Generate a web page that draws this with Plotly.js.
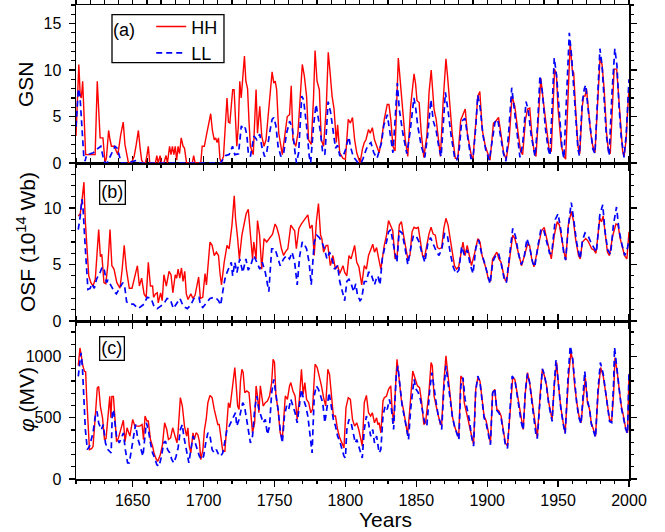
<!DOCTYPE html>
<html>
<head>
<meta charset="utf-8">
<script src="https://cdn.plot.ly/plotly-3.0.1.min.js"></script>
<style>html,body{margin:0;padding:0;background:#fff;}#chart{width:665px;height:532px;}</style>
</head>
<body>
<div id="chart"></div>
<script>
// ---- DATA: [year, value] pairs ----
const seriesNames = ["HH", "LL"];
const panelLabels = ["(a)", "(b)", "(c)"];
const yTitles = ["GSN", "OSF (10<sup>14</sup> Wb)", "<i>\u03c6</i> (MV)"];

const gsnHH = [[1610,2.9],[1611,6],[1612,10.6],[1613,7.2],[1613.8,7.0],[1614.7,8.8],[1615.5,5],[1616.8,0.9],[1618,0.9],[1620,0.9],[1622,0.9],[1623.5,0.9],[1625,8.8],[1626,5.5],[1627,2.7],[1629,2.7],[1630.5,0],[1631.5,0.6],[1633,3.5],[1634,2.5],[1635,1.8],[1637,1.8],[1638.5,1.3],[1639.5,0.9],[1641.5,3.0],[1643.3,4.4],[1644.5,2.0],[1645.8,0.7],[1647,0],[1649,0],[1651,0.7],[1652.5,2.0],[1654,3.5],[1655.3,1.5],[1656.3,0.3],[1657.5,0],[1659,0],[1660,0.8],[1661,1.8],[1662,0],[1664,0],[1666,0],[1667,0.8],[1668,0],[1669.3,0.8],[1670.3,0],[1672,0],[1673.5,0.8],[1674.5,0],[1676,1.8],[1677,0.9],[1678,1.8],[1679,0.9],[1680,1.8],[1681,0.3],[1682,1.8],[1683,1.0],[1684.2,2.7],[1685.5,1.8],[1686.5,1.6],[1688,0],[1690,0],[1692,0],[1693,0.8],[1694,0],[1696,0],[1698,0],[1699,1.8],[1700.5,1.8],[1702,3.0],[1703.5,4.3],[1705,5.3],[1706.2,3.5],[1707.5,2.5],[1708.5,2.7],[1709.5,2.2],[1710.5,2.7],[1711.5,0.5],[1712.5,0],[1714,0.7],[1716.5,7.0],[1717.5,4.4],[1718.5,4.3],[1719.5,6],[1720.5,7.9],[1721.5,7.9],[1723.4,1.8],[1724.5,4],[1725.5,8.8],[1726.5,7.0],[1727.5,8.6],[1728.8,11.5],[1729.8,8.8],[1731,8.0],[1732,4.5],[1733,1.8],[1735,0.9],[1737,7.9],[1738,3.2],[1739.6,6.1],[1741,2.9],[1742.6,1.8],[1744,2.5],[1746.5,7.2],[1748.3,9.8],[1749.5,8.6],[1750.5,8.8],[1751.5,7.9],[1753,3.2],[1755.5,0.9],[1757.6,3.8],[1759,5.0],[1760.6,5.2],[1761.8,8.3],[1763,2.5],[1765,1.8],[1766.5,3.2],[1768,7],[1769.6,10.6],[1771,9.4],[1772.6,7.2],[1774,2.5],[1775.9,2.0],[1777.5,7],[1778.6,12.1],[1780,8.8],[1781.6,7.9],[1783,2.5],[1784.6,1.8],[1786.5,6],[1787.9,11.9],[1789,10.1],[1790.6,7.2],[1792,5.8],[1793.6,2.2],[1794.5,4.1],[1796,1.1],[1798.3,0.5],[1800,0.4],[1802,4.7],[1803.5,4.3],[1805,4.9],[1806.5,2.5],[1808,1.1],[1810.3,0],[1812,1.5],[1813.3,2.2],[1814.5,2.5],[1816.3,3.6],[1817.5,3.2],[1819,3.8],[1820.5,2.5],[1822.3,1.8],[1823.8,1.1],[1825.5,2.5],[1827.4,4.7],[1829.5,6.3],[1830.7,6.3],[1832,4.7],[1833.5,1.8],[1835,1.3],[1837.3,11.3],[1838.8,8.6],[1840.3,5.8],[1842.2,2.5],[1844,0.7],[1846,6.1],[1848.4,9.6],[1849.5,8.5],[1850.5,6.7],[1852,6.5],[1853.5,3.2],[1855.3,0.6],[1857.5,3],[1859,7.6],[1860.5,10.0],[1862.5,5.8],[1864,4.7],[1865.8,2.2],[1867,0.7],[1869,6.8],[1870.9,11.2],[1872,9.4],[1873.3,6.8],[1875.3,3.2],[1877.5,0.5],[1879.3,0.5],[1881.3,4.6],[1883,5.2],[1884.5,5.8],[1886,3.2],[1888.9,0.7],[1890,0.5],[1892,4.0],[1893.4,7.2],[1894.8,7.7],[1896.5,3.6],[1898.7,1.8],[1900.8,0.7],[1902,0.3],[1904.4,4.3],[1906,4.5],[1908,4.9],[1909.5,3.2],[1911.6,1.1],[1913.4,0.4],[1915.5,2.5],[1917.5,7.2],[1919.5,6.1],[1921.8,3.2],[1923.5,1.3],[1925,0.9],[1927,4.7],[1928.5,5.8],[1930,5.9],[1931.4,3.2],[1933,1.3],[1934.4,0.7],[1936.5,6.1],[1937.8,9.1],[1939.5,6.8],[1942,3.2],[1943.7,1.4],[1945.2,1.3],[1946.5,6.5],[1947.5,10.1],[1948.8,9.5],[1950,5.8],[1952.3,1.8],[1954.2,0.7],[1955.3,0.4],[1957,7.0],[1958.5,12.9],[1960,10.0],[1961,9.7],[1962.5,5.4],[1964,1.8],[1965.3,1.0],[1967,6.0],[1968,7.2],[1969,7.2],[1970,8.0],[1971.5,5.2],[1973,3.2],[1974.5,1.8],[1976,1.1],[1978,6.8],[1979.6,11.3],[1981,10.6],[1982.5,7.9],[1984.2,3.2],[1985.5,1.3],[1986.8,1.0],[1988.5,7.2],[1989.5,10.1],[1991.3,10.1],[1992.8,6.8],[1994.3,3.2],[1995.5,1.3],[1996.5,0.7],[1998,2.5],[1999,5.5],[2000,8.0]];

const gsnLL = [[1610,3.9],[1611.7,8.0],[1612.8,7.2],[1614.5,3.2],[1615.5,0.7],[1616.4,0.2],[1617.5,0.9],[1620,1.0],[1622.2,1.1],[1624,1.4],[1626,1.6],[1627.5,1.8],[1629.3,0.5],[1630.5,0],[1632,0],[1633.3,0.4],[1635,1.1],[1637.5,1.8],[1639,1.6],[1641,0.5],[1642,0],[1646,0],[1650,0.2],[1653,0.3],[1655,0],[1660,0],[1670,0],[1680,0],[1690,0],[1700,0],[1712,0],[1714,0.5],[1715.5,0.8],[1718,0.9],[1720.4,1.8],[1722,0.9],[1724.6,1.0],[1726.6,4.0],[1728,3.6],[1729.3,3.8],[1730.5,3.0],[1731.5,1.1],[1733,0.7],[1735.5,2.9],[1737.5,2.5],[1739.6,3.1],[1741,1.8],[1743,0.7],[1744.5,1.1],[1746.5,3.2],[1748.3,4.7],[1749.5,4.9],[1751,4.0],[1752.5,1.8],[1754.5,0.7],[1756.5,1.1],[1758.5,3.2],[1760.7,4.5],[1762.5,3.8],[1764.5,1.1],[1765.5,0],[1767,1.1],[1769.2,7.2],[1770.5,6.8],[1772.6,4.0],[1774.5,0.7],[1775.5,0],[1777.5,4.0],[1779.3,6.3],[1781,4.7],[1782.5,3.2],[1784,1.1],[1785.5,0.9],[1786.5,3.2],[1787.8,6.6],[1789.5,5.5],[1791.5,3.2],[1793,1.6],[1794.5,1.9],[1796,0.8],[1798.3,0.7],[1800,1.4],[1801.3,2.2],[1802.5,2.8],[1803.5,1.8],[1805.5,0.7],[1807,0.4],[1809,0],[1811,0],[1812.5,0.5],[1814.5,1.4],[1816,1.9],[1818,2.2],[1820,1.1],[1822.3,0.5],[1824,1.5],[1825.5,2.2],[1827,4.0],[1829.5,5.2],[1831.5,3.2],[1833.5,1.1],[1835,4.5],[1836.6,8.6],[1838,5.8],[1840.5,3.2],[1843.3,1.0],[1845.5,3.2],[1848.3,7.0],[1849.5,6.0],[1851,4.0],[1853.5,1.8],[1856,0.6],[1858,3],[1860.3,6.8],[1862,4.5],[1864,3.5],[1866,1.6],[1867.5,0.7],[1869,4],[1870.5,7.6],[1872.5,5.5],[1874.5,3.0],[1877,0.6],[1878.5,0.3],[1880,1.0],[1882,4.5],[1884.3,4.8],[1886,3.0],[1888.5,0.5],[1890,0.5],[1892,4.0],[1893.3,7.3],[1895,6.0],[1897,3.0],[1899,1.4],[1901.5,0.3],[1903.5,2.5],[1905.5,4.4],[1907.4,4.7],[1909.5,2.8],[1911.5,1.0],[1913.2,0.2],[1915,3.0],[1917.3,8.1],[1919,6.0],[1921.5,3.0],[1923.1,0.6],[1925,2.0],[1927.4,6.6],[1929,5.6],[1931,3.0],[1933.7,0.7],[1935.5,4.0],[1937.2,9.4],[1939,7.5],[1941,3.8],[1943,1.5],[1944.3,0.8],[1946,6.0],[1947.3,11.3],[1949,9.3],[1951,5.0],[1952.8,1.5],[1954.1,0.5],[1956.3,7.5],[1957.9,14.0],[1959.5,11.5],[1961,8],[1962.5,4.5],[1964,1.5],[1965,0.8],[1967,6.5],[1968.5,8.0],[1969.5,8.4],[1971,6.0],[1973,3.2],[1974.5,1.5],[1976,1.0],[1978,8.5],[1979.5,12.3],[1981,10.5],[1982.5,6.5],[1984,3.0],[1986,0.8],[1988,7.5],[1990,12.3],[1991.5,10.5],[1993,6.0],[1994.5,2.8],[1996.5,0.6],[1998,3.0],[1999,6.0],[2000,9.0]];

const osfHH = [[1611.6,9.3],[1613,9.5],[1614.5,11],[1615.6,12.3],[1616.5,9.0],[1617.5,7.0],[1619,4.0],[1620.5,3.4],[1622,3.1],[1623.6,3.7],[1625,6],[1626,8.1],[1627.2,5.7],[1628.2,5.9],[1629.7,3.4],[1631,3.3],[1632.5,5],[1634,8.1],[1635.3,4.9],[1636.8,4.6],[1638.8,3.4],[1641,2.9],[1642.5,4.5],[1644,6.7],[1645.5,4.6],[1647.6,2.9],[1649.5,2.9],[1651.7,4.1],[1653.3,4.9],[1654.7,3.1],[1656.3,3.8],[1658,2.4],[1659.5,2.1],[1661,5.2],[1662.5,3.1],[1664,3.1],[1664.7,2.1],[1666,2.4],[1667.3,2.5],[1668,1.6],[1669.7,2.5],[1670.8,1.8],[1672,4.1],[1673.7,3.1],[1675.6,4.4],[1677,4.1],[1678.3,2.5],[1680,4.1],[1681,3.8],[1682,4.6],[1683.2,3.8],[1684.4,4.7],[1685.5,3.5],[1686.7,4.4],[1687.8,2.4],[1689,1.9],[1691,2.4],[1692.5,2.0],[1694,2.3],[1696.5,3.9],[1697.7,2.0],[1699.4,2.1],[1701,4.2],[1702,3.2],[1704.5,7.0],[1706,6.7],[1707.5,5.8],[1709,6.1],[1710.5,5.8],[1711.5,4.3],[1712.6,3.2],[1714.5,5.2],[1716.5,6.7],[1718,6.4],[1720,8.5],[1721.6,11.1],[1722.5,9.1],[1724,7.3],[1725.2,5.5],[1727,7.6],[1728.5,8.5],[1730,9.5],[1731.5,9.9],[1733,7.9],[1734.5,5.5],[1735.4,7.0],[1737,5.5],[1738,8.9],[1739.5,7.6],[1741,4.6],[1742.6,7.3],[1744.5,7.0],[1746.5,7.3],[1748.6,7.7],[1750.4,8.6],[1751.6,8.3],[1753.1,7.6],[1754.9,6.4],[1756.4,5.8],[1757.6,6.1],[1759.4,6.4],[1761.5,8.5],[1763,8.2],[1764.2,8.0],[1765.4,6.4],[1767.2,8.2],[1769,8.6],[1770.5,8.9],[1772,9.1],[1773.5,9.4],[1775,8.2],[1776.5,8.5],[1778,5.8],[1779.5,8.8],[1781,10.4],[1782.5,7.6],[1783.4,7.3],[1784.6,6.1],[1786.4,6.7],[1787.6,6.7],[1789.4,4.9],[1791.2,5.8],[1793,4.6],[1794.5,4.9],[1796,4.2],[1798.3,4.9],[1799.5,4.3],[1801,4.0],[1802.5,5.8],[1804,5.5],[1806.5,6.7],[1808,5.2],[1809.5,4.8],[1811.5,3.2],[1813.3,4.9],[1814.8,4.6],[1816.3,5.8],[1817.8,6.4],[1819.3,6.8],[1820.5,6.1],[1822,6.5],[1823.5,5.5],[1825,4.6],[1827.4,6.7],[1829,7.6],[1830.4,8.9],[1832,8.5],[1833.4,8.0],[1835,5.5],[1836.5,5.8],[1838,8.5],[1839.5,8.8],[1841,7.6],[1842.5,6.7],[1844,5.5],[1845.5,5.8],[1847,7.9],[1848.4,8.3],[1849.9,8.2],[1851.4,8.3],[1852.9,7.0],[1854.4,5.8],[1855.9,5.7],[1858.9,7.7],[1860.4,8.3],[1861.9,7.7],[1863.4,7.6],[1864.9,6.5],[1866.4,6.4],[1867.9,6.5],[1869.4,8.2],[1870.9,9.1],[1872.4,8.5],[1873.9,7.3],[1875.4,5.8],[1876.9,4.9],[1878.4,4.6],[1879.9,4.8],[1882.9,7.0],[1884.4,5.8],[1885.9,6.7],[1887.4,5.8],[1888.9,4.9],[1891.3,6.1],[1893.4,7.3],[1894.9,7.0],[1896.4,5.8],[1897.8,5.2],[1899.3,4.6],[1900.8,3.7],[1902.3,3.5],[1903.8,5.5],[1905.3,5.8],[1906.8,6.1],[1908.3,5.5],[1909.8,5.2],[1911.3,4.3],[1912.8,3.6],[1913.7,3.5],[1915.8,5.5],[1918,7.6],[1919.5,7.3],[1921.3,6.4],[1922.7,5.8],[1924.2,4.9],[1926.3,5.8],[1928.4,6.8],[1929.9,6.7],[1931.4,5.5],[1933,4.8],[1935,6.1],[1938.3,8.0],[1940.2,8.3],[1942,7.3],[1943.7,6.1],[1945.2,5.5],[1947.3,7.6],[1949.4,8.8],[1950.9,8.5],[1952.4,7.3],[1954.2,6.1],[1955.4,5.4],[1957.2,8.5],[1959.3,9.7],[1960.8,8.9],[1962.3,7.3],[1964.4,5.8],[1965.6,5.5],[1967.1,7.0],[1969.5,7.3],[1971,7.1],[1972.2,6.8],[1973.7,6.4],[1975.2,6.3],[1976.7,6.0],[1979.4,9.1],[1980.6,8.8],[1981.8,9.3],[1983.3,7.6],[1984.8,6.1],[1986.2,5.8],[1988.6,7.6],[1990.8,8.6],[1992.3,8.5],[1993.8,7.3],[1995.3,6.4],[1996.8,5.8],[1998.5,5.5],[1999.5,7.0],[2000,7.9]];

const osfLL = [[1611.6,8.1],[1613,9.3],[1614.2,10.8],[1615,9.9],[1616.3,7.0],[1617.5,4.3],[1618.4,2.8],[1620,2.9],[1621.3,3.3],[1622.9,2.9],[1624.5,3.7],[1626,4.1],[1627,4.3],[1628.5,4.8],[1630,4.5],[1631.5,3.4],[1632.5,3.6],[1634,3.3],[1637,2.6],[1638.5,2.4],[1641,2.9],[1643,3.4],[1644.5,2.9],[1645.7,1.7],[1647.5,1.5],[1650.5,1.5],[1653.9,1.1],[1656,1.3],[1658,1.5],[1660.2,2.1],[1663,2.0],[1665,1.3],[1667.2,1.1],[1669.5,1.3],[1671.8,1.5],[1674.2,2.0],[1676.5,1.9],[1678.7,1.1],[1681,1.5],[1683.3,2.0],[1685.7,1.3],[1688.5,1.1],[1690.8,1.4],[1693.2,2.0],[1696.7,2.1],[1697.8,1.4],[1699.4,1.2],[1701.5,1.5],[1704.5,2.0],[1707.5,2.1],[1709,2.0],[1710.5,1.8],[1712,1.4],[1713.5,2.6],[1715,3.7],[1716.5,4.3],[1718,4.8],[1719.5,5.2],[1720.5,4.0],[1722,5.2],[1723.5,4.3],[1725.5,5.5],[1727.6,4.3],[1729.8,5.5],[1731.5,4.5],[1733.4,5.0],[1735.4,5.8],[1737.5,5.2],[1739.6,4.6],[1741.4,5.2],[1743.5,4.3],[1746,2.6],[1748,6.4],[1750.4,6.4],[1752.5,5.5],[1754,4.9],[1756.4,5.5],[1758.5,5.8],[1760.6,5.5],[1762.4,6.1],[1764.2,5.2],[1766,3.2],[1767.8,5.8],[1769.6,7.0],[1771.4,6.7],[1772.6,6.4],[1774.4,5.2],[1775.9,3.2],[1778,7.0],[1779.8,7.6],[1781.6,7.4],[1783.4,7.0],[1785.2,6.4],[1787,5.5],[1788.8,6.1],[1790.6,5.5],[1792.3,4.6],[1794.5,4.9],[1796,3.5],[1798.3,2.3],[1799.5,1.8],[1801,3.5],[1802.5,3.7],[1804.3,3.2],[1805.8,2.6],[1807.3,3.3],[1808.5,2.3],[1810.3,1.8],[1811.5,2.0],[1813.3,3.5],[1814.8,3.5],[1816.3,4.3],[1817.8,4.3],[1819.3,3.7],[1820.5,3.2],[1821.7,3.7],[1822.9,4.0],[1824.4,3.2],[1826,5.5],[1827.5,6.4],[1829,7.0],[1830.4,7.9],[1832,8.1],[1833.5,7.0],[1835,6.1],[1836.3,5.2],[1838,8.0],[1840,7.8],[1842,6.5],[1844,5.0],[1846,6.4],[1848,7.6],[1850,7.5],[1852,7.0],[1854,6.0],[1856,5.2],[1858,6.8],[1860,7.4],[1862,6.8],[1864,6.2],[1866,5.8],[1868,6.4],[1870,7.8],[1872,7.5],[1874,6.0],[1876,4.8],[1878,4.2],[1880,4.5],[1882,6.6],[1884,5.8],[1886,6.3],[1888,5.0],[1890,4.2],[1892,6.5],[1894,7.2],[1896,6.0],[1898,5.2],[1900,4.2],[1902,3.3],[1904,5.3],[1906,5.8],[1908,6.0],[1910,5.0],[1912,3.7],[1913.5,3.4],[1915.5,5.5],[1918,8.2],[1920,7.5],[1922,6.0],[1924,5.0],[1926,5.6],[1928,7.3],[1930,6.5],[1932,5.2],[1933.5,4.8],[1936,6.8],[1938,8.2],[1940,8.0],[1942,7.0],[1944,6.0],[1945.5,6.0],[1948,9.0],[1950,9.5],[1952,8.0],[1954,6.0],[1955.3,5.4],[1957.3,8.5],[1959.3,10.5],[1961,9.0],[1963,7.0],[1965.5,5.5],[1967.3,7.2],[1969,7.8],[1971,7.6],[1973,7.0],[1975,6.5],[1977,6.1],[1979.4,9.4],[1981.5,10.3],[1983,8.0],[1985,6.3],[1987,5.9],[1989,8.5],[1991.2,10.1],[1993,8.0],[1995,6.8],[1997,5.8],[1999,6.5],[2000,7.3]];

const phiHH = [[1611.6,926],[1612.8,1070],[1613.8,1002],[1614.9,920],[1616,879],[1616.8,875],[1617.5,675],[1618.5,485],[1619.5,240],[1621,248],[1622,265],[1623.6,510],[1625,743],[1626,755],[1627.2,593],[1628.7,500],[1630.1,321],[1631.2,330],[1632.5,540],[1633.8,675],[1634.6,500],[1635.3,675],[1636.4,675],[1637.2,515],[1638.6,305],[1639.8,330],[1641.7,420],[1643.4,480],[1644.6,305],[1646,418],[1648,350],[1650,486],[1651.5,432],[1653,430],[1655,432],[1656.6,445],[1657.6,322],[1658.7,514],[1660,473],[1661,473],[1662.5,322],[1664,268],[1665,213],[1666.5,164],[1667.7,145],[1669.5,200],[1671,281],[1672.5,459],[1674,404],[1675.2,322],[1676.7,336],[1678.2,418],[1679.7,363],[1681.2,295],[1682,382],[1683.6,664],[1685,596],[1686.5,432],[1688,350],[1688.9,418],[1689.9,268],[1691,213],[1692.5,377],[1693.4,322],[1694.7,377],[1695.9,363],[1697,309],[1698,158],[1699.5,240],[1700.6,404],[1701.8,486],[1703,623],[1704.5,683],[1706,664],[1707.5,568],[1709,486],[1710,445],[1711,445],[1712.3,309],[1713.5,227],[1715,227],[1716.5,486],[1717.5,623],[1718.6,582],[1719.5,678],[1721,855],[1722,910],[1722.9,773],[1724,596],[1725,568],[1726,800],[1727,896],[1727.9,869],[1729,705],[1730.5,719],[1732,705],[1733,541],[1734.5,377],[1736,459],[1737,760],[1738,678],[1739,541],[1740,760],[1741,650],[1742,596],[1743.5,623],[1745,637],[1746.5,678],[1748,787],[1749,978],[1750,951],[1751,678],[1752.5,568],[1754,377],[1755.5,322],[1757.6,678],[1759.1,650],[1760.6,760],[1761.5,787],[1763,719],[1764.5,678],[1766,486],[1767.5,650],[1769,896],[1770.2,691],[1771.4,787],[1772.6,650],[1774.1,623],[1775.6,541],[1776.8,568],[1778.6,937],[1780.1,910],[1781.6,841],[1783.1,760],[1784.6,664],[1786.1,596],[1787.6,896],[1788.8,855],[1790,705],[1791.5,514],[1793,514],[1794.5,404],[1796,336],[1797.5,295],[1799,254],[1800.4,582],[1802,664],[1803.5,650],[1805,486],[1806.5,432],[1808,459],[1809.4,404],[1811,295],[1811.9,268],[1813.3,623],[1814.8,683],[1816.3,541],[1817.8,514],[1819,541],[1820.5,459],[1822,500],[1822.9,445],[1823.8,459],[1825,377],[1826.5,637],[1827.4,664],[1829,678],[1830.4,732],[1832,760],[1832.9,568],[1834,459],[1836.4,978],[1837.9,814],[1839.4,650],[1840.9,568],[1842.4,459],[1843.9,363],[1845.4,568],[1847.5,882],[1849.3,814],[1850.8,760],[1852.3,746],[1853.8,623],[1855.3,445],[1856.5,459],[1858.9,705],[1860.4,951],[1861.3,923],[1862.5,678],[1864,596],[1865.5,514],[1867,445],[1867.9,445],[1869.4,787],[1870.9,1005],[1872.4,841],[1873.9,623],[1875.4,514],[1876.9,432],[1878.4,377],[1879.9,336],[1881.4,841],[1882.9,814],[1883.8,623],[1885,568],[1886.5,486],[1888,404],[1889.5,322],[1890.4,281],[1891.9,732],[1893.4,828],[1894.9,800],[1896.4,650],[1897.8,514],[1899.3,473],[1900.8,377],[1902.3,295],[1903.8,705],[1905.3,732],[1906.8,568],[1908.3,555],[1909.8,514],[1911.3,404],[1912.8,295],[1914.3,268],[1915.8,486],[1918,828],[1919.5,814],[1921,705],[1922.4,623],[1923.9,486],[1925.4,404],[1926.9,705],[1928.4,869],[1929.9,787],[1931.4,650],[1932.9,514],[1934.4,377],[1935.3,336],[1937.4,705],[1938.9,896],[1940.4,841],[1941.9,760],[1943.4,623],[1944.9,514],[1945.8,486],[1947.3,760],[1949,951],[1950.3,760],[1951.8,596],[1953.6,459],[1955,377],[1957.4,841],[1959,1033],[1960.2,978],[1961.7,760],[1963.2,623],[1964.7,514],[1966.2,459],[1967.7,678],[1969.2,828],[1970.7,623],[1972.2,568],[1973.4,459],[1974.9,404],[1976.4,350],[1978.2,705],[1980,910],[1981.8,841],[1983.3,732],[1984.8,596],[1986.3,486],[1987.8,473],[1989.2,705],[1990.1,992],[1991.6,882],[1993.1,732],[1994.6,596],[1996.1,514],[1997.6,418],[1999,377],[2000,860]];

const phiLL = [[1611.6,838],[1612.8,1002],[1613.5,1030],[1614.5,919],[1615.5,648],[1616.6,403],[1618,240],[1619.5,267],[1622,376],[1623.6,512],[1624.8,553],[1626,457],[1627.9,403],[1629.2,444],[1630.8,294],[1632.5,240],[1634.8,212],[1635.6,539],[1636.4,566],[1637.2,485],[1638.6,349],[1640.5,294],[1643.4,376],[1644.8,240],[1646.4,131],[1647.6,131],[1649,240],[1650.6,377],[1652,445],[1653.5,336],[1655.7,240],[1657.2,186],[1659.6,459],[1661,404],[1662.5,295],[1664,213],[1665.5,172],[1667,117],[1668.6,104],[1670,172],[1671.9,295],[1673.1,309],[1674.6,240],[1676.1,213],[1677.6,158],[1679,131],[1680.6,186],[1682,254],[1683.6,404],[1685,445],[1686,350],[1687.2,268],[1688.4,186],[1689.6,131],[1691,240],[1692.6,350],[1694.1,295],[1695.6,240],[1697,186],[1698.6,158],[1700,186],[1701.5,295],[1703,377],[1704.5,350],[1706,240],[1707.5,213],[1709,240],[1710.5,200],[1712,186],[1713.5,213],[1715,295],[1716.5,404],[1718,432],[1719.5,473],[1721,514],[1722.5,541],[1723.4,432],[1725,486],[1726.5,568],[1727.6,623],[1728.8,596],[1730,514],[1731.5,377],[1733,295],[1734.5,350],[1736,568],[1737.5,678],[1739,568],[1740.5,514],[1742,459],[1743.5,486],[1745,363],[1746.5,432],[1748,705],[1749.5,814],[1751,705],[1752.5,568],[1754,404],[1755.5,295],[1757,514],[1758.5,596],[1760,568],[1761.5,650],[1763,596],[1764.5,541],[1766,459],[1767.5,623],[1769,732],[1770.5,650],[1772,596],[1773.5,514],[1775,350],[1776.5,213],[1778,678],[1779.5,760],[1781,732],[1782.5,678],[1784,623],[1785.5,459],[1787,596],[1788.5,705],[1790,596],[1791.5,486],[1793,432],[1794.5,350],[1796,309],[1797.5,240],[1799,186],[1800,172],[1801,404],[1802.5,486],[1804,459],[1805.5,377],[1807,295],[1808,322],[1809.4,268],[1811,186],[1811.9,172],[1813.3,404],[1814.8,514],[1816.3,459],[1817.8,350],[1819.3,404],[1820.5,295],[1822,350],[1823.8,213],[1825,240],[1826.5,514],[1828,596],[1829.5,568],[1831,650],[1832.5,568],[1834,404],[1835.8,841],[1837,923],[1838.5,760],[1840,596],[1841.5,514],[1843,432],[1844.5,322],[1846,568],[1848.4,814],[1849.9,732],[1851.4,705],[1852.9,650],[1854.4,568],[1855.9,459],[1857.4,432],[1859.5,732],[1861,869],[1862.5,732],[1864,623],[1865.5,514],[1867,459],[1867.9,404],[1869.4,732],[1870.9,923],[1872.4,787],[1873.9,623],[1875.4,514],[1876.9,432],[1878.4,377],[1880,322],[1881.4,760],[1882.9,828],[1884.4,650],[1885.9,568],[1887.4,486],[1888.9,350],[1890.4,268],[1891.9,720],[1893.4,840],[1894.9,790],[1896.4,640],[1897.8,500],[1899.3,450],[1900.8,360],[1902.3,280],[1903.8,700],[1905.3,740],[1906.8,560],[1908.3,540],[1909.8,500],[1911.3,390],[1912.8,280],[1914.3,250],[1915.8,500],[1917.6,840],[1919.5,810],[1921,700],[1922.4,610],[1923.9,470],[1925.4,400],[1926.9,720],[1928.4,860],[1929.9,790],[1931.4,640],[1932.9,500],[1934.4,360],[1935.3,330],[1937.4,720],[1938.9,900],[1940.4,850],[1941.9,750],[1943.4,610],[1944.9,500],[1945.8,470],[1947.3,780],[1948.5,970],[1950.3,770],[1951.8,590],[1953.6,450],[1955,370],[1957.2,870],[1958.6,1087],[1960.2,990],[1961.7,760],[1963.2,610],[1964.7,500],[1966.2,450],[1967.7,700],[1968.8,880],[1970.7,640],[1972.2,570],[1973.4,450],[1974.9,400],[1976.4,340],[1978.2,740],[1979.8,951],[1981.8,860],[1983.3,730],[1984.8,590],[1986.3,470],[1987.8,460],[1989.2,800],[1989.8,1074],[1991.6,880],[1993.1,720],[1994.6,580],[1996.1,500],[1997.6,410],[1999,370],[2000,880]];

const yRanges = [[0, 17], [0, 14], [0, 1290]];
const yDticks = [5, 5, 500];
const yMinor = [1, 1, 100];
const xRange = [1610, 2000];

// ---- STYLE ----
const RED = "#ff0000", BLUE = "#0000ff";
const FONT = "Liberation Sans, Arial, sans-serif";

function mk(pairs, name, color, dash, xa, ya, show) {
  return {
    type: "scatter", mode: "lines", name: name,
    x: pairs.map(p => p[0]), y: pairs.map(p => p[1]),
    xaxis: xa, yaxis: ya, showlegend: show,
    line: { color: color, width: dash ? 1.7 : 1.4, dash: dash || "solid" }
  };
}
const DASH = "6px,4px";
const traces = [
  mk(gsnHH, seriesNames[0], RED, null, "x3", "y3", true),
  mk(gsnLL, seriesNames[1], BLUE, DASH, "x3", "y3", true),
  mk(osfHH, seriesNames[0], RED, null, "x2", "y2", false),
  mk(osfLL, seriesNames[1], BLUE, DASH, "x2", "y2", false),
  mk(phiHH, seriesNames[0], RED, null, "x", "y", false),
  mk(phiLL, seriesNames[1], BLUE, DASH, "x", "y", false)
];

function xax(anchor, labels) {
  return {
    anchor: anchor, range: xRange, showline: true, linecolor: "#000", linewidth: 1.5,
    mirror: "ticks", ticks: "outside", ticklen: 6, tickwidth: 1.3, tickcolor: "#000",
    tick0: 1650, dtick: 50, showticklabels: labels, showgrid: false, zeroline: false,
    tickfont: { family: FONT, size: 16, color: "#000" },
    minor: { dtick: 10, ticks: "outside", ticklen: 3.5, tickwidth: 1.2, tickcolor: "#000", showgrid: false }
  };
}
function yax(i, anchor, domain) {
  return {
    anchor: anchor, domain: domain, range: yRanges[i], showline: true, linecolor: "#000", linewidth: 1.5,
    mirror: "ticks", ticks: "outside", ticklen: 6, tickwidth: 1.3, tickcolor: "#000",
    tick0: 0, dtick: yDticks[i], showgrid: false, zeroline: false, ticklabelstandoff: 4,
    tickfont: { family: FONT, size: 16, color: "#000" },
    minor: { dtick: yMinor[i], ticks: "outside", ticklen: 3.5, tickwidth: 1.2, tickcolor: "#000", showgrid: false }
  };
}

const annFont = { family: FONT, size: 21, color: "#000" };
const layout = {
  width: 665, height: 532,
  margin: { l: 76, r: 36, t: 5, b: 53, pad: 0 },
  paper_bgcolor: "#fff", plot_bgcolor: "#fff",
  font: { family: FONT, color: "#000" },
  xaxis: xax("y", true),
  xaxis2: xax("y2", false),
  xaxis3: xax("y3", false),
  yaxis: yax(2, "x", [0, 1/3]),
  yaxis2: yax(1, "x2", [1/3, 2/3]),
  yaxis3: yax(0, "x3", [2/3, 1]),
  showlegend: true,
  legend: {
    x: 0.136, y: 0.993, xanchor: "left", yanchor: "top",
    bgcolor: "rgba(0,0,0,0)", borderwidth: 0,
    font: { family: FONT, size: 18, color: "#000" },
    tracegroupgap: 0
  },
  shapes: [
    { type: "rect", xref: "paper", yref: "paper", x0: 0.0651, x1: 0.2676, y0: 0.8783, y1: 0.9795,
      line: { color: "#000", width: 1.3 }, fillcolor: "rgba(0,0,0,0)", layer: "above" }
  ],
  annotations: [
    { text: "Years", xref: "paper", yref: "paper", x: 0.5597, y: -0.086, xanchor: "center", yanchor: "middle",
      showarrow: false, font: annFont },
    { text: yTitles[0], xref: "paper", yref: "paper", x: -0.0904, y: 5/6, textangle: -90,
      xanchor: "center", yanchor: "middle", showarrow: false, font: annFont },
    { text: yTitles[1], xref: "paper", yref: "paper", x: -0.0904, y: 0.5, textangle: -90,
      xanchor: "center", yanchor: "middle", showarrow: false, font: annFont },
    { text: yTitles[2], xref: "paper", yref: "paper", x: -0.0904, y: 1/6, textangle: -90,
      xanchor: "center", yanchor: "middle", showarrow: false, font: annFont },
    { text: panelLabels[0], xref: "paper", yref: "paper", x: 0.0868, y: 0.948,
      xanchor: "center", yanchor: "middle", showarrow: false, font: { family: FONT, size: 18, color: "#000" } },
    { text: panelLabels[1], xref: "paper", yref: "paper", x: 0.0669, y: 0.605,
      xanchor: "center", yanchor: "middle", showarrow: false, bordercolor: "#000", borderwidth: 1.3, borderpad: 1,
      font: { family: FONT, size: 18, color: "#000" } },
    { text: panelLabels[2], xref: "paper", yref: "paper", x: 0.0651, y: 0.275,
      xanchor: "center", yanchor: "middle", showarrow: false, bordercolor: "#000", borderwidth: 1.3, borderpad: 1,
      font: { family: FONT, size: 18, color: "#000" } }
  ]
};

Plotly.newPlot("chart", traces, layout, { displayModeBar: false, staticPlot: true });
</script>
</body>
</html>
